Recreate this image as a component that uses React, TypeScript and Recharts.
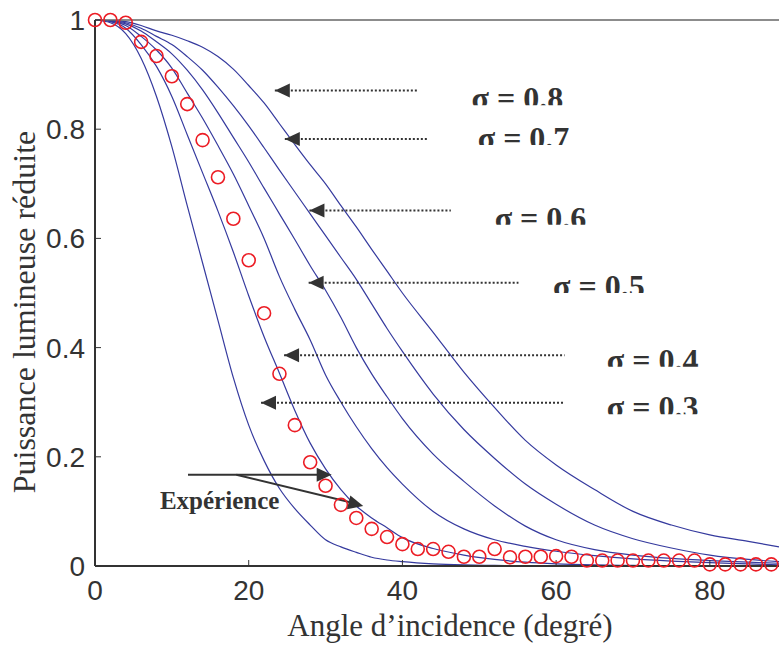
import React from "react";
import {
  ComposedChart, Line, Scatter, XAxis, YAxis,
  ReferenceLine, ReferenceDot,
} from "recharts";

// experimental points (every 2 degrees)
const angles = [
  0, 2, 4, 6, 8, 10, 12, 14, 16, 18, 20, 22, 24, 26, 28, 30, 32, 34, 36, 38, 40, 42, 44,
  46, 48, 50, 52, 54, 56, 58, 60, 62, 64, 66, 68, 70, 72, 74, 76, 78, 80, 82, 84, 86, 88,
];
const experience = [
  1.0, 1.0, 0.995, 0.96, 0.934, 0.897, 0.846, 0.78, 0.712, 0.636, 0.56, 0.463, 0.352, 0.258,
  0.19, 0.147, 0.112, 0.088, 0.068, 0.053, 0.04, 0.031, 0.031, 0.026, 0.017, 0.017, 0.031,
  0.016, 0.017, 0.017, 0.018, 0.017, 0.01, 0.01, 0.01, 0.01, 0.01, 0.01, 0.01, 0.01, 0.003,
  0.003, 0.003, 0.003, 0.003,
];

// model curves
const curveAngles = [
  0, 2, 4, 6, 8, 10, 12, 14, 16, 18, 20, 22, 24, 26, 28, 30, 32, 34, 36, 38, 40,
  44, 48, 52, 56, 60, 65, 70, 75, 80, 85, 89,
];
const sigma03 = [
  1.0, 0.995, 0.975, 0.93, 0.86, 0.768, 0.66, 0.555, 0.45, 0.345, 0.258, 0.193, 0.142, 0.105,
  0.075, 0.048, 0.035, 0.025, 0.016, 0.011, 0.008, 0.004, 0.002, 0.001, 0, 0, 0, 0, 0, 0, 0, 0,
];
const sigma04 = [
  1.0, 0.997, 0.985, 0.955, 0.915, 0.86, 0.79, 0.72, 0.65, 0.575, 0.495, 0.42, 0.353, 0.285,
  0.225, 0.178, 0.14, 0.11, 0.088, 0.07, 0.052, 0.032, 0.02, 0.012, 0.007, 0.004, 0.002, 0.001,
  0, 0, 0, 0,
];
const sigma05 = [
  1.0, 0.998, 0.99, 0.97, 0.945, 0.912, 0.866, 0.82, 0.77, 0.718, 0.66, 0.6, 0.53, 0.47,
  0.414, 0.35, 0.3, 0.255, 0.215, 0.18, 0.15, 0.1, 0.068, 0.048, 0.036, 0.027, 0.019, 0.013,
  0.009, 0.006, 0.004, 0.002,
];
const sigma06 = [
  1.0, 0.998, 0.993, 0.98, 0.96, 0.938, 0.908, 0.872, 0.83, 0.785, 0.74, 0.692, 0.645, 0.598,
  0.55, 0.505, 0.455, 0.4, 0.352, 0.31, 0.27, 0.205, 0.155, 0.11, 0.073, 0.048, 0.03, 0.02,
  0.014, 0.01, 0.007, 0.005,
];
const sigma07 = [
  1.0, 0.999, 0.995, 0.985, 0.97, 0.955, 0.933, 0.908, 0.877, 0.843, 0.806, 0.766, 0.725,
  0.685, 0.645, 0.605, 0.565, 0.525, 0.48, 0.435, 0.393, 0.315, 0.25, 0.197, 0.15, 0.113,
  0.075, 0.05, 0.033, 0.02, 0.012, 0.008,
];
const sigma08 = [
  1.0, 0.999, 0.997, 0.99, 0.98, 0.972, 0.962, 0.95, 0.933, 0.91, 0.88, 0.848, 0.81, 0.772,
  0.735, 0.7, 0.66, 0.621, 0.58, 0.54, 0.5, 0.428, 0.355, 0.29, 0.23, 0.185, 0.14, 0.1, 0.075,
  0.057, 0.045, 0.035,
];

const xTicks = [0, 20, 40, 60, 80];
const yTicks = [0, 0.2, 0.4, 0.6, 0.8, 1];

const expData = angles.map((x, i) => ({ x, y: experience[i] }));
const curves = [sigma03, sigma04, sigma05, sigma06, sigma07, sigma08].map((vals) =>
  curveAngles.map((x, i) => ({ x, y: vals[i] }))
);

// annotation anchors, in axis units
const sigmaNotes = [
  { label: "0.8", tipX: 23.4, endX: 41.9, y: 0.871, textX: 49.0, textY: 0.844 },
  { label: "0.7", tipX: 24.7, endX: 43.2, y: 0.782, textX: 49.8, textY: 0.771 },
  { label: "0.6", tipX: 27.9, endX: 46.3, y: 0.651, textX: 52.0, textY: 0.625 },
  { label: "0.5", tipX: 27.8, endX: 55.1, y: 0.519, textX: 59.6, textY: 0.5 },
  { label: "0.4", tipX: 24.6, endX: 61.1, y: 0.386, textX: 66.6, textY: 0.365 },
  { label: "0.3", tipX: 21.6, endX: 61.1, y: 0.299, textX: 66.6, textY: 0.278 },
];

const INK = "#333333";
const BLUE = "#353a9e";
const RED = "#ec1c24";
const SANS = "'Liberation Sans', Arial, Helvetica, sans-serif";
const SERIF = "'Liberation Serif', 'Times New Roman', Times, serif";

const arrowHead = (angle: number) => (p: any) => (
  <polygon
    points="0,0 -15,-7 -15,7"
    transform={`translate(${p.cx},${p.cy}) rotate(${angle})`}
    fill={INK}
  />
);

const sigmaText = (label: string, id: string) => (p: any) => (
  <g>
    <defs>
      <clipPath id={id}>
        <rect x={p.cx - 5} y={p.cy - 40} width={130} height={40} />
      </clipPath>
    </defs>
    <text x={p.cx} y={p.cy + 4} clipPath={`url(#${id})`} fontFamily={SERIF}
      fontWeight="bold" fontSize={32} fill={INK}>
      {`σ = ${label}`}
    </text>
  </g>
);

const expText = (p: any) => (
  <text x={p.cx} y={p.cy} fontFamily={SERIF} fontWeight="bold" fontSize={25} fill={INK}>
    Expérience
  </text>
);

const XTitle = ({ viewBox }: any) => (
  <text x={viewBox.x + viewBox.width / 2 + 13} y={viewBox.y + 70} textAnchor="middle"
    fontFamily={SERIF} fontSize={31} fill={INK}>
    Angle d’incidence (degré)
  </text>
);

const YTitle = ({ viewBox }: any) => (
  <text
    transform={`translate(${viewBox.x + viewBox.width - 60},${viewBox.y + viewBox.height / 2 + 19}) rotate(-90)`}
    textAnchor="middle" fontFamily={SERIF} fontSize={32} fill={INK}>
    Puissance lumineuse réduite
  </text>
);

const ring = (p: any) => (
  <circle cx={p.cx} cy={p.cy} r={6.5} fill="none" stroke={RED} strokeWidth={1.6} />
);

export default function App() {
  const tickStyle = { fill: INK, fontSize: 28, fontFamily: SANS };
  return (
    <div style={{ position: "absolute", left: 0, top: 0, background: "#fff" }}>
      <ComposedChart width={781} height={645} margin={{ top: 10, right: 2, bottom: 49, left: 35 }}>
        <XAxis
          type="number" dataKey="x" domain={[0, 89]} ticks={xTicks} height={30}
          tick={tickStyle} tickSize={-6} tickMargin={20}
          axisLine={{ stroke: INK, strokeWidth: 2 }} tickLine={{ stroke: INK }}
          label={<XTitle />}
        />
        <XAxis
          xAxisId="top" orientation="top" type="number" dataKey="x" domain={[0, 89]}
          ticks={xTicks} height={10} tick={false} tickSize={-6}
          axisLine={{ stroke: "#666", strokeWidth: 1.5 }} tickLine={{ stroke: INK }}
        />
        <YAxis
          type="number" dataKey="y" domain={[0, 1]} ticks={yTicks} width={60}
          tick={tickStyle} tickSize={-6} tickMargin={16}
          tickFormatter={(v: number) => String(v)}
          axisLine={{ stroke: INK, strokeWidth: 2 }} tickLine={{ stroke: INK }}
          label={<YTitle />}
        />

        {curves.map((d, i) => (
          <Line key={i} data={d} dataKey="y" type="monotone" stroke={BLUE} strokeWidth={1.2}
            dot={false} activeDot={false} isAnimationActive={false} />
        ))}
        <Scatter data={expData} dataKey="y" shape={ring} isAnimationActive={false} />

        {sigmaNotes.map((n, i) => (
          <ReferenceLine key={`l${i}`} segment={[{ x: n.tipX, y: n.y }, { x: n.endX, y: n.y }]}
            stroke={INK} strokeWidth={2} strokeDasharray="2 2" />
        ))}
        {sigmaNotes.map((n, i) => (
          <ReferenceDot key={`a${i}`} x={n.tipX} y={n.y} r={0} shape={arrowHead(180)} />
        ))}
        {sigmaNotes.map((n, i) => (
          <ReferenceDot key={`t${i}`} x={n.textX} y={n.textY} r={0}
            shape={sigmaText(n.label, `clip-sigma-${i}`)} />
        ))}

        <ReferenceLine segment={[{ x: 12.1, y: 0.167 }, { x: 29.9, y: 0.167 }]}
          stroke={INK} strokeWidth={2} />
        <ReferenceLine segment={[{ x: 18.4, y: 0.167 }, { x: 34.0, y: 0.114 }]}
          stroke={INK} strokeWidth={2} />
        <ReferenceDot x={30.8} y={0.167} r={0} shape={arrowHead(0)} />
        <ReferenceDot x={34.9} y={0.11} r={0} shape={arrowHead(13.9)} />
        <ReferenceDot x={8.45} y={0.104} r={0} shape={expText} />
      </ComposedChart>
    </div>
  );
}
